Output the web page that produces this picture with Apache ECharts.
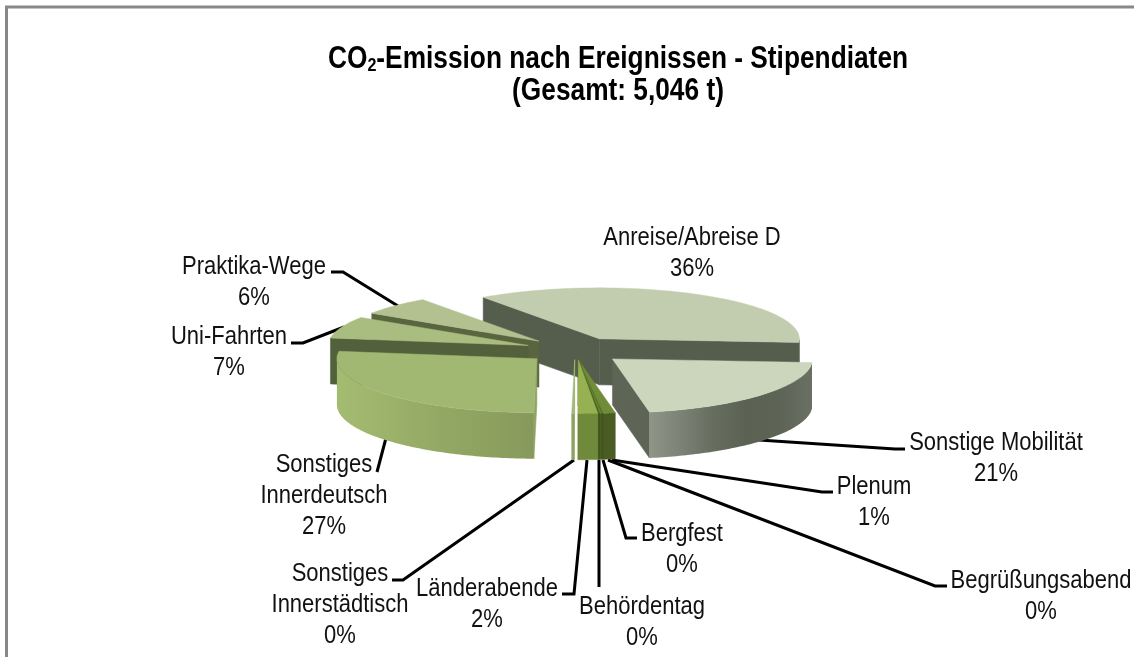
<!DOCTYPE html>
<html>
<head>
<meta charset="utf-8">
<title>CO2-Emission</title>
<script src="https://cdn.jsdelivr.net/npm/echarts@6/dist/echarts.min.js"></script>
<style>
  html, body { margin: 0; padding: 0; background: #fff; }
  #chart { width: 1134px; height: 657px; }
</style>
</head>
<body>
<div id="chart"></div>
<script>
const categories = [
  'Anreise/Abreise D', 'Sonstige Mobilität', 'Plenum', 'Begrüßungsabend', 'Bergfest',
  'Behördentag', 'Länderabende', 'Sonstiges\nInnerstädtisch', 'Sonstiges\nInnerdeutsch',
  'Uni-Fahrten', 'Praktika-Wege'
]
// Anteile in %, aus dem Bild geschätzt
const shares = [35.9, 21, 1, 0.13, 0.13, 0.14, 1.6, 0.2, 27.1, 6.9, 5.9]

const font = '"Liberation Sans", Arial, sans-serif'
const fontSize = 25
const lineHeight = 31
// reference text is narrower than the font
const textScale = 0.88

// pie geometry
const cx = 575
const cy = 350
const rx = 200
const ryBack = 51
const ryFront = 54
const depth = 46
const startAngle = 234.5
const explode = 0.25
const smallExplode = 0.18
// these slices are pulled out as one piece
const cluster = [2, 3, 4, 5, 6]
// back to front
const drawOrder = [0, 10, 9, 8, 1, 7, 2, 3, 4, 5, 6]

const hGrad = stops => new echarts.graphic.LinearGradient(0, 0, 1, 0,
  stops.map((c, i) => ({ offset: i / (stops.length - 1), color: c })))

const topColors = ['#c2cdaf', '#cbd6bd', '#6f8c37', '#556f2a', '#6e8c34', '#48601f', '#95b151', '#a5b97c', '#a0b872', '#aabd81', '#b3c190']
const faceColors = ['#555d4d', '#5e6557', '#4d5f24', '#44581f', '#4c6022', '#3f531b', '#6f8a3a', '#8ea163', '#8fa562', '#52603b', '#59653f']
const wallColors = [
  '#555d4d',
  hGrad(['#8f9587', '#7b8174', '#666d5f', '#5b6254', '#5d6456', '#6a7064']),
  '#4a5c24', '#3f531b', '#4c6022', '#3f531b', '#6f8a3a', '#8ea163',
  hGrad(['#a4bb72', '#9db36b', '#93a965', '#8ea260', '#87985c']),
  '#52603b', '#59653f'
]

// label anchors: x centre, y of the first line
const labelX = [692, 996, 874, 1041, 682, 642, 487, 340, 324, 229, 254]
const labelY = [238, 443, 487, 581, 534, 607, 589, 574, 465, 337, 267]
const leaders = [
  null,
  [[759, 440], [895, 449], [905, 449]],
  [[612, 460], [822, 492], [833, 492]],
  [[608, 460], [935, 586], [947, 586]],
  [[603, 460], [626, 538], [637, 538]],
  [[599, 460], [599, 587]],
  [[587, 460], [574, 594], [562, 594]],
  [[574, 460], [403, 580], [392, 580]],
  [[386, 438], [377, 472]],
  [[344, 327], [303, 343], [291, 343]],
  [[398, 306], [343, 272], [331, 272]]
]

const total = shares.reduce((a, b) => a + b, 0)
const rad = d => d * Math.PI / 180
const planeX = t => rx * Math.cos(rad(t))
const planeY = t => {
  const s = Math.sin(rad(t))
  return (s < 0 ? ryBack : ryFront) * s
}

// start/end angle of each slice
let acc = startAngle
const sweeps = shares.map(v => {
  const a0 = acc
  acc += v / total * 360
  return [a0, acc]
})

function sliceApex(i) {
  let mid = (sweeps[i][0] + sweeps[i][1]) / 2
  if (cluster.includes(i)) {
    mid = (sweeps[cluster[0]][0] + sweeps[cluster[cluster.length - 1]][1]) / 2
  }
  const e = cluster.includes(i) || i === 7 ? smallExplode : explode
  return [cx + e * planeX(mid), cy + e * planeY(mid)]
}

function renderSlice(params, api) {
  const i = api.value(0)
  const [a0, a1] = sweeps[i]
  const [ax, ay] = sliceApex(i)
  const point = t => [ax + planeX(t), ay + planeY(t)]
  const down = p => [p[0], p[1] + depth]
  const children = []
  const poly = (points, fill) => children.push({
    type: 'polygon',
    shape: { points },
    style: { fill, stroke: typeof fill === 'string' ? fill : null, lineWidth: 0.5 }
  })
  const radial = t => {
    const p = point(t)
    poly([[ax, ay], p, down(p), [ax, ay + depth]], faceColors[i])
  }

  if (Math.cos(rad(a0)) < 0) radial(a0)
  if (Math.cos(rad(a1)) > 0) radial(a1)

  const arc = []
  const steps = Math.max(2, Math.ceil(a1 - a0))
  for (let k = 0; k <= steps; k++) arc.push(point(a0 + (a1 - a0) * k / steps))

  const wall = []
  for (let k = 0; k <= steps; k++) {
    const t = a0 + (a1 - a0) * k / steps
    if (Math.sin(rad(t)) >= 0) wall.push(point(t))
  }
  if (wall.length > 1) poly(wall.concat(wall.map(down).reverse()), wallColors[i])

  poly([[ax, ay]].concat(arc), topColors[i])
  return { type: 'group', children }
}

const labelGraphics = categories.map((name, i) => ({
  type: 'text',
  x: labelX[i],
  y: labelY[i] - lineHeight / 2,
  scaleX: textScale,
  silent: true,
  style: {
    text: name + '\n' + Math.round(shares[i] / total * 100) + '%',
    font: fontSize + 'px ' + font,
    lineHeight,
    fill: '#111',
    textAlign: 'center',
    textVerticalAlign: 'top'
  }
}))

const leaderGraphics = leaders.filter(Boolean).map(points => ({
  type: 'polyline',
  silent: true,
  shape: { points },
  style: { stroke: '#000', lineWidth: 3, fill: null }
}))

const titleGraphic = {
  type: 'text',
  x: 618,
  y: 43,
  scaleX: 0.848,
  silent: true,
  style: {
    text: '{t|CO}{s|2}{t|-Emission nach Ereignissen - Stipendiaten}\n{t|(Gesamt: 5,046 t)}',
    textAlign: 'center',
    textVerticalAlign: 'top',
    rich: {
      t: { fontFamily: font, fontWeight: 'bold', fontSize: 31, lineHeight: 32, fill: '#000' },
      s: { fontFamily: font, fontWeight: 'bold', fontSize: 19, lineHeight: 32, fill: '#000', verticalAlign: 'bottom', padding: [12, 0, 0, 0] }
    }
  }
}

const chart = echarts.init(document.getElementById('chart'))
chart.setOption({
  animation: false,
  backgroundColor: '#fff',
  graphic: [
    {
      type: 'polyline',
      silent: true,
      shape: { points: [[6.5, 657], [6.5, 7], [1134, 7]] },
      style: { stroke: '#888', lineWidth: 3, fill: null }
    },
    titleGraphic,
    ...leaderGraphics,
    ...labelGraphics
  ],
  series: [{
    type: 'custom',
    coordinateSystem: 'none',
    silent: true,
    data: drawOrder.map(i => [i]),
    renderItem: renderSlice
  }]
})
</script>
</body>
</html>
